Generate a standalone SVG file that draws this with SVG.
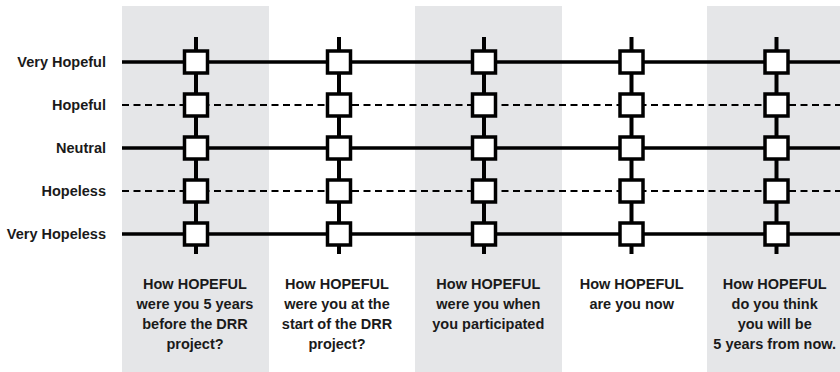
<svg xmlns="http://www.w3.org/2000/svg" width="840" height="372" viewBox="0 0 840 372">
<style>
.panel{fill:#e5e6e8}
.solid{stroke:#000;stroke-width:3.5;fill:none}
.dash{stroke:#000;stroke-width:2.2;stroke-dasharray:7 4.5;fill:none}
.stem{stroke:#000;stroke-width:4;fill:none}
.box{fill:#fff;stroke:#000;stroke-width:3.5}
text{font-family:"Liberation Sans",Arial,sans-serif;font-weight:bold;font-size:14.5px;fill:#1a1a1a}
.lbl{text-anchor:end}
.q{text-anchor:middle}
</style>
<defs>
<rect id="b" class="box" x="-11.5" y="-11" width="23" height="22"/>
</defs>
<g id="panels">
<rect class="panel" x="122" y="6" width="147" height="366"/>
<rect class="panel" x="415" y="6" width="147" height="366"/>
<rect class="panel" x="707" y="6" width="147" height="366"/>
</g>
<g id="labels">
<text class="lbl" x="106" y="67">Very Hopeful</text>
<text class="lbl" x="106" y="110">Hopeful</text>
<text class="lbl" x="106" y="153">Neutral</text>
<text class="lbl" x="106" y="196">Hopeless</text>
<text class="lbl" x="106" y="239">Very Hopeless</text>
</g>
<g id="connectors">
<line class="solid" x1="122" y1="62" x2="840" y2="62"/>
<line class="dash" x1="122" y1="105" x2="840" y2="105"/>
<line class="solid" x1="122" y1="148" x2="840" y2="148"/>
<line class="dash" x1="122" y1="191" x2="840" y2="191"/>
<line class="solid" x1="122" y1="234" x2="840" y2="234"/>
<line class="stem" x1="196" y1="37" x2="196" y2="254"/>
<line class="stem" x1="339" y1="37" x2="339" y2="254"/>
<line class="stem" x1="484" y1="37" x2="484" y2="254"/>
<line class="stem" x1="631.5" y1="37" x2="631.5" y2="254"/>
<line class="stem" x1="776.5" y1="37" x2="776.5" y2="254"/>
</g>
<g id="col1">
<use href="#b" x="196" y="62"/><use href="#b" x="196" y="105"/><use href="#b" x="196" y="148"/><use href="#b" x="196" y="191"/><use href="#b" x="196" y="234"/>
<text class="q" x="195" y="289">How HOPEFUL</text>
<text class="q" x="195" y="309">were you 5 years</text>
<text class="q" x="195" y="329">before the DRR</text>
<text class="q" x="195" y="348.5">project?</text>
</g>
<g id="col2">
<use href="#b" x="339" y="62"/><use href="#b" x="339" y="105"/><use href="#b" x="339" y="148"/><use href="#b" x="339" y="191"/><use href="#b" x="339" y="234"/>
<text class="q" x="337" y="289">How HOPEFUL</text>
<text class="q" x="337" y="309">were you at the</text>
<text class="q" x="337" y="329">start of the DRR</text>
<text class="q" x="337" y="348.5">project?</text>
</g>
<g id="col3">
<use href="#b" x="484" y="62"/><use href="#b" x="484" y="105"/><use href="#b" x="484" y="148"/><use href="#b" x="484" y="191"/><use href="#b" x="484" y="234"/>
<text class="q" x="488.3" y="289">How HOPEFUL</text>
<text class="q" x="488.3" y="309">were you when</text>
<text class="q" x="488.3" y="329">you participated</text>
</g>
<g id="col4">
<use href="#b" x="631.5" y="62"/><use href="#b" x="631.5" y="105"/><use href="#b" x="631.5" y="148"/><use href="#b" x="631.5" y="191"/><use href="#b" x="631.5" y="234"/>
<text class="q" x="631.7" y="289">How HOPEFUL</text>
<text class="q" x="631.7" y="309">are you now</text>
</g>
<g id="col5">
<use href="#b" x="776.5" y="62"/><use href="#b" x="776.5" y="105"/><use href="#b" x="776.5" y="148"/><use href="#b" x="776.5" y="191"/><use href="#b" x="776.5" y="234"/>
<text class="q" x="774.7" y="289">How HOPEFUL</text>
<text class="q" x="774.7" y="309">do you think</text>
<text class="q" x="774.7" y="329">you will be</text>
<text class="q" x="774.7" y="348.5">5 years from now.</text>
</g>
</svg>
